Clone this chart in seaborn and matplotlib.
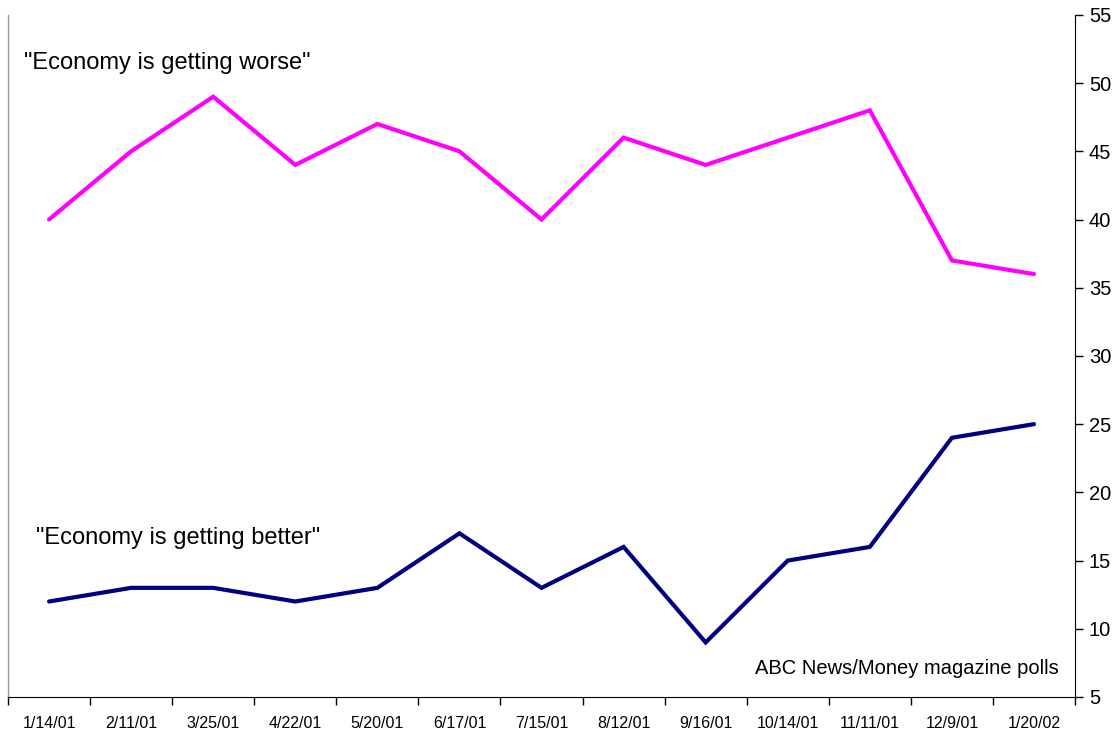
import numpy as np
import pandas as pd
import matplotlib.pyplot as plt
import seaborn as sns

sns.set_style("white")
plt.rcParams['font.family'] = ['Liberation Sans', 'DejaVu Sans']
plt.rcParams['text.color'] = 'black'
plt.rcParams['xtick.color'] = 'black'
plt.rcParams['ytick.color'] = 'black'

DATES = ['1/14/01', '2/11/01', '3/25/01', '4/22/01', '5/20/01', '6/17/01', '7/15/01',
         '8/12/01', '9/16/01', '10/14/01', '11/11/01', '12/9/01', '1/20/02']
WORSE = [40, 45, 49, 44, 47, 45, 40, 46, 44, 46, 48, 37, 36]
BETTER = [12, 13, 13, 12, 13, 17, 13, 16, 9, 15, 16, 24, 25]

df = pd.DataFrame({
    'pos': list(range(len(DATES))) * 2,
    'value': WORSE + BETTER,
    'series': ['worse'] * len(DATES) + ['better'] * len(DATES),
})

fig = plt.figure(figsize=(11.17, 7.36), dpi=100)
ax = fig.add_axes([0.0072, 0.053, 0.9552, 0.9268])

sns.lineplot(data=df, x='pos', y='value', hue='series',
             palette={'worse': '#FF00FF', 'better': '#000080'},
             linewidth=3.0, legend=False, ax=ax)
for line in ax.lines:
    line.set_solid_joinstyle('miter')

n = len(DATES)
ax.set_xlim(-0.5, n - 0.5)
ax.set_ylim(5, 55)

# category axis: ticks between categories, labels at centres
ax.set_xticks(np.arange(-0.5, n, 1.0))
ax.set_xticklabels([])
ax.set_xticks(np.arange(n), minor=True)
ax.set_xticklabels(DATES, minor=True, fontsize=11.5)
ax.tick_params(axis='x', which='major', direction='out', length=6, width=1, color='black', bottom=True)
ax.tick_params(axis='x', which='minor', length=0, pad=14)

ax.yaxis.tick_right()
ax.set_yticks(range(5, 56, 5))
ax.tick_params(axis='y', direction='out', length=6, width=1, color='black', labelsize=14.5, pad=4, right=True)

ax.set_xlabel('')
ax.set_ylabel('')

ax.spines['top'].set_visible(False)
ax.spines['left'].set_color('#999999')
ax.spines['left'].set_linewidth(1)
ax.spines['right'].set_color('black')
ax.spines['bottom'].set_color('black')

ax.text(0.015, 0.93, '"Economy is getting worse"', transform=ax.transAxes,
        fontsize=17, ha='left', va='center')
ax.text(0.026, 0.233, '"Economy is getting better"', transform=ax.transAxes,
        fontsize=17, ha='left', va='center')
ax.text(0.985, 0.042, 'ABC News/Money magazine polls', transform=ax.transAxes,
        fontsize=14.5, ha='right', va='center')

fig.savefig('out.png', dpi=100, facecolor='white')
